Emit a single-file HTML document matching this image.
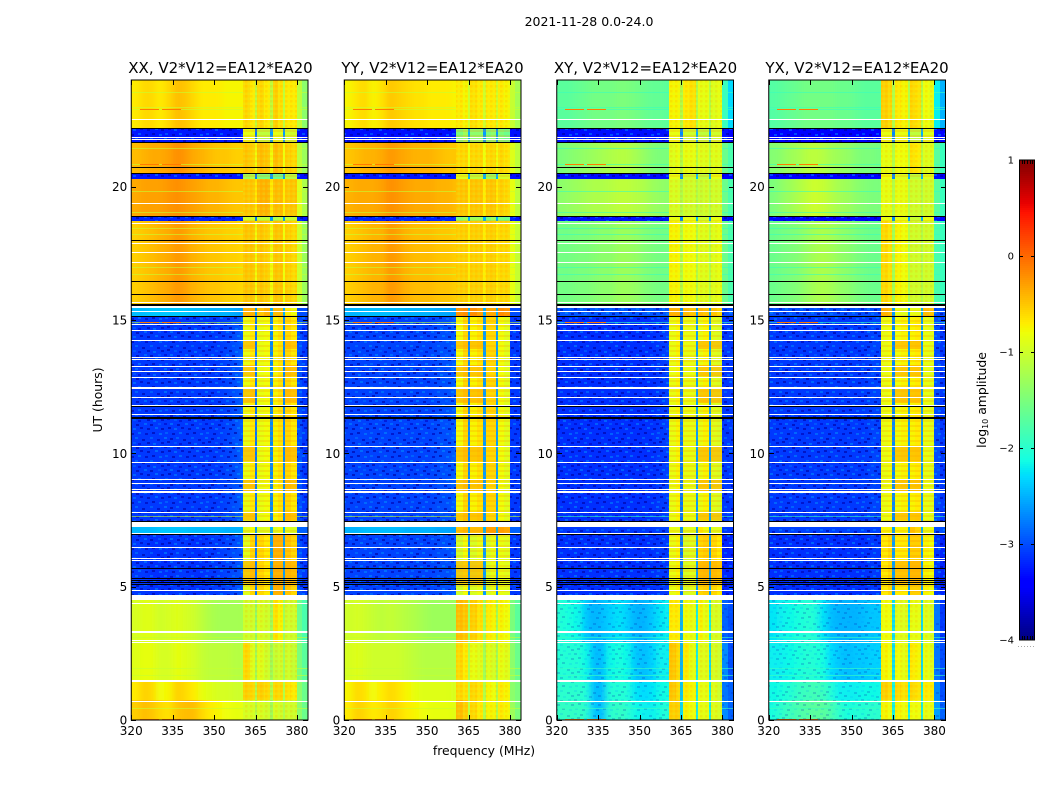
<!DOCTYPE html>
<html lang="en">
<head>
<meta charset="utf-8">
<title>2021-11-28 amplitude waterfall</title>
<style>
html,body{margin:0;padding:0;background:#fff;}
svg{display:block;font-family:"DejaVu Sans","Liberation Sans",sans-serif;fill:#000;}
</style>
</head>
<body>
<svg id="chart" xmlns="http://www.w3.org/2000/svg" width="1050" height="800" viewBox="0 0 1050 800">
  <defs>
    <filter id="smooth" filterUnits="objectBoundingBox" x="0" y="0" width="1" height="1">
      <feGaussianBlur stdDeviation="3.5 0"/>
    </filter>
    <pattern id="grain" patternUnits="userSpaceOnUse" width="41" height="23">
      <rect x="0" y="0" width="3" height="2" fill="#0090ff" opacity=".55"/>
      <rect x="6" y="1" width="3" height="2" fill="#0000a0" opacity=".6"/>
      <rect x="12" y="0" width="3" height="2" fill="#00a0ff" opacity=".4"/>
      <rect x="19" y="2" width="3" height="2" fill="#0000a0" opacity=".6"/>
      <rect x="27" y="0" width="3" height="2" fill="#0080ff" opacity=".5"/>
      <rect x="34" y="2" width="3" height="2" fill="#0000b0" opacity=".6"/>
      <rect x="3" y="4" width="3" height="2" fill="#0000a0" opacity=".6"/>
      <rect x="10" y="5" width="3" height="2" fill="#0070ff" opacity=".5"/>
      <rect x="15" y="6" width="3" height="2" fill="#0000c0" opacity=".55"/>
      <rect x="24" y="5" width="3" height="2" fill="#0000a0" opacity=".6"/>
      <rect x="30" y="6" width="3" height="2" fill="#00a0ff" opacity=".45"/>
      <rect x="38" y="5" width="3" height="2" fill="#0000b0" opacity=".6"/>
      <rect x="0" y="9" width="3" height="2" fill="#0000c0" opacity=".55"/>
      <rect x="6" y="9" width="3" height="2" fill="#00a0ff" opacity=".45"/>
      <rect x="13" y="10" width="3" height="2" fill="#0000a0" opacity=".6"/>
      <rect x="21" y="9" width="3" height="2" fill="#0090ff" opacity=".5"/>
      <rect x="27" y="10" width="3" height="2" fill="#0000a0" opacity=".6"/>
      <rect x="35" y="9" width="3" height="2" fill="#0070ff" opacity=".5"/>
      <rect x="4" y="13" width="3" height="2" fill="#0000a0" opacity=".6"/>
      <rect x="10" y="14" width="3" height="2" fill="#0090ff" opacity=".5"/>
      <rect x="17" y="13" width="3" height="2" fill="#0000b0" opacity=".6"/>
      <rect x="24" y="14" width="3" height="2" fill="#0000a0" opacity=".6"/>
      <rect x="32" y="13" width="3" height="2" fill="#00a0ff" opacity=".45"/>
      <rect x="38" y="14" width="3" height="2" fill="#0000a0" opacity=".6"/>
      <rect x="1" y="18" width="3" height="2" fill="#0080ff" opacity=".5"/>
      <rect x="8" y="19" width="3" height="2" fill="#0000a0" opacity=".6"/>
      <rect x="15" y="18" width="3" height="2" fill="#00a0ff" opacity=".45"/>
      <rect x="22" y="19" width="3" height="2" fill="#0000b0" opacity=".6"/>
      <rect x="29" y="18" width="3" height="2" fill="#0000a0" opacity=".6"/>
      <rect x="36" y="19" width="3" height="2" fill="#0090ff" opacity=".5"/>
    </pattern>
    <pattern id="checker" patternUnits="userSpaceOnUse" width="5" height="5">
      <rect x="0" y="0" width="2.5" height="2.5" fill="#ff9000" opacity=".16"/>
      <rect x="2.5" y="2.5" width="2.5" height="2.5" fill="#c8ff40" opacity=".18"/>
    </pattern>
    <pattern id="stripes" patternUnits="userSpaceOnUse" width="7" height="5">
      <rect x="0" y="0" width="7" height="2" fill="#ff8000" opacity=".2"/>
    </pattern>
  </defs>
</svg>
<script>
// Frequency channel starts (MHz); last entry closes the final channel.
const channelEdges = [320,323,326,329,332,335,338,341,344,347,350,353,356,359,360.5,363,364.8,365.6,368,370.3,371.2,373,375,375.8,378,380,382,384];
// Time blocks (UT hours). Gaps between blocks are flagged data and stay white.
const blockStart = [0,0.75,1.5,2.9,4.69,7.0,7.44,15.16,15.6,18.71,18.9,20.29,20.475,21.68,22.2];
const blockEnd   = [0.75,1.5,2.9,4.5,7.0,7.24,15.16,15.44,18.71,18.9,20.29,20.475,21.68,22.2,24];
// Block indices with noisy low-signal data, per panel.
const xxNoisy = [4,6,9,11,13];
const yyNoisy = [4,6,9,11,13];
const xyNoisy = [0,1,2,3,4,5,6,7,9,11,13];
const yxNoisy = [0,1,2,3,4,5,6,7,9,11,13];
const panelNoisy = [xxNoisy, yyNoisy, xyNoisy, yxNoisy];
const lowSignalBlocks = [4,5,6,7,9,11,13];
const faintNoiseBlocks = [0,1,2,3];

// log10 amplitude, one row per time block, one column per channel.
const xxValues = [
[-.55,-.45,-.5,-.6,-.65,-.5,-.45,-.45,-.6,-.7,-.75,-.8,-.85,-.85,-.95,-.95,-1.2,-.95,-1,-1.3,-.95,-1,-1.2,-1,-1,-1.4,-1.6],
[-.7,-.55,-.6,-.8,-.75,-.55,-.6,-.7,-.85,-.9,-.95,-.95,-1,-1,-.55,-.6,-1.2,-.55,-.6,-1.2,-.6,-.6,-1.2,-.65,-.7,-1.4,-1.6],
[-.9,-.85,-.85,-.95,-.95,-.85,-.9,-.95,-1.05,-1.1,-1.1,-1.1,-1.15,-1.15,-.6,-.9,-1.3,-.9,-1,-1.3,-1.05,-1,-1.3,-1,-1.05,-1.5,-1.7],
[-.95,-.9,-.9,-1,-.95,-.9,-.95,-1,-1.1,-1.2,-1.25,-1.25,-1.25,-1.25,-1,-1,-1.4,-.95,-1,-1.3,-.65,-.75,-1.3,-1,-1,-1.6,-1.8],
[-3.1,-3.1,-3.15,-3.15,-3.15,-3.1,-3.1,-3.15,-3.15,-3.1,-3.1,-3.05,-3,-2.95,-.9,-.6,-2.8,-.6,-.7,-2.6,-.4,-.4,-2.6,-.5,-.6,-3,-3.1],
[-2.45,-2.45,-2.45,-2.4,-2.4,-2.4,-2.4,-2.45,-2.45,-2.45,-2.45,-2.5,-2.5,-2.5,-.9,-.8,-2.6,-.95,-.9,-2.5,-.9,-.8,-2.5,-.9,-.95,-2.9,-2.9],
[-3.1,-3.1,-3.1,-3.1,-3.1,-3.1,-3.1,-3.1,-3.1,-3.1,-3.1,-3.05,-3,-2.9,-.85,-.7,-2.8,-.85,-.8,-2.7,-.75,-.65,-2.7,-.6,-.7,-3,-3.1],
[-2.45,-2.45,-2.4,-2.4,-2.4,-2.4,-2.4,-2.45,-2.45,-2.5,-2.5,-2.5,-2.55,-2.6,-.4,-.4,-2.6,-.5,-.4,-2.5,-.45,-.45,-2.5,-.7,-.8,-3,-3],
[-.55,-.5,-.45,-.4,-.35,-.25,-.3,-.4,-.45,-.5,-.5,-.55,-.55,-.6,-.5,-.5,-.8,-.5,-.55,-.8,-.5,-.5,-.8,-.55,-.6,-1,-1.3],
[-3.2,-3.2,-3.2,-3.2,-3.2,-3.2,-3.2,-3.2,-3.2,-3.2,-3.2,-3.2,-3.2,-3.2,-1,-1,-2.8,-1.1,-1.1,-2.6,-1.2,-1.1,-2.6,-1.05,-1.05,-3.2,-3.3],
[-.35,-.3,-.3,-.3,-.25,-.2,-.25,-.3,-.35,-.4,-.4,-.45,-.5,-.5,-.5,-.5,-.7,-.4,-.4,-.7,-.45,-.45,-.7,-.5,-.5,-.9,-1.2],
[-3.25,-3.25,-3.25,-3.25,-3.25,-3.25,-3.25,-3.25,-3.25,-3.25,-3.25,-3.25,-3.25,-3.25,-1.3,-1.2,-2.8,-1.5,-1.5,-2.6,-1.6,-1.6,-2.6,-1.15,-1.15,-3.3,-3.3],
[-.45,-.4,-.35,-.35,-.3,-.2,-.25,-.35,-.4,-.45,-.5,-.5,-.55,-.55,-.5,-.55,-.8,-.45,-.5,-.8,-.45,-.5,-.8,-.55,-.6,-1.1,-1.3],
[-3.25,-3.25,-3.25,-3.25,-3.25,-3.25,-3.25,-3.25,-3.25,-3.25,-3.25,-3.25,-3.25,-3.25,-.85,-.85,-2.8,-1.1,-1.1,-2.6,-.85,-.9,-2.6,-1,-1,-3.3,-3.3],
[-.7,-.6,-.6,-.7,-.6,-.45,-.5,-.6,-.7,-.7,-.7,-.75,-.75,-.75,-.6,-.7,-1.1,-.6,-.7,-1.1,-.55,-.65,-1.1,-.7,-.7,-1.1,-1.4]
];
const yyValues = [
[-.7,-.55,-.6,-.7,-.65,-.55,-.6,-.7,-.75,-.8,-.85,-.85,-.85,-.9,-.45,-.55,-1.1,-.6,-.7,-1.2,-.75,-.75,-1.2,-.7,-.75,-1.3,-1.5],
[-.75,-.6,-.65,-.8,-.7,-.6,-.65,-.75,-.85,-.9,-.9,-.9,-.9,-.95,-.6,-.65,-1.2,-.6,-.65,-1.2,-.75,-.8,-1.2,-.7,-.75,-1.4,-1.5],
[-.95,-.9,-.95,-1,-1,-1,-1,-1.05,-1.1,-1.15,-1.15,-1.15,-1.15,-1.15,-.6,-.7,-1.2,-.85,-.9,-1.3,-.9,-.95,-1.3,-.85,-.9,-1.4,-1.6],
[-1,-.95,-1,-1.05,-1.1,-1.05,-1.1,-1.15,-1.2,-1.25,-1.3,-1.3,-1.3,-1.3,-.45,-.5,-1.3,-.55,-.65,-1.3,-.7,-.75,-1.3,-.75,-.8,-1.5,-1.7],
[-3.05,-3.05,-3.05,-3.05,-3.05,-3.05,-3.05,-3.05,-3.05,-3.05,-3.05,-3,-3,-2.95,-1,-.8,-2.7,-.95,-.85,-2.6,-.95,-.85,-2.7,-.85,-.9,-3.1,-3.1],
[-2.5,-2.5,-2.45,-2.45,-2.45,-2.45,-2.45,-2.5,-2.5,-2.5,-2.5,-2.55,-2.55,-2.6,-.5,-.45,-2.5,-.45,-.45,-2.5,-.3,-.3,-2.5,-.3,-.35,-2.9,-2.9],
[-3.05,-3.05,-3.05,-3.05,-3.05,-3.05,-3.05,-3.05,-3.05,-3.05,-3.05,-3,-3,-2.9,-.8,-.6,-2.7,-.75,-.65,-2.6,-.6,-.6,-2.6,-.8,-.9,-3.1,-3.1],
[-2.5,-2.5,-2.45,-2.45,-2.45,-2.45,-2.45,-2.5,-2.5,-2.5,-2.5,-2.55,-2.55,-2.6,-.25,-.2,-2.5,-.2,-.3,-2.5,-.35,-.35,-2.5,-.2,-.25,-3,-3],
[-.55,-.5,-.45,-.4,-.4,-.25,-.3,-.4,-.45,-.45,-.45,-.5,-.5,-.55,-.55,-.55,-.7,-.55,-.55,-.7,-.55,-.55,-.7,-.6,-.6,-.85,-1.05],
[-3.2,-3.2,-3.2,-3.2,-3.2,-3.2,-3.2,-3.2,-3.2,-3.2,-3.2,-3.2,-3.2,-3.2,-1.45,-1.3,-2.5,-1.3,-1.3,-2.5,-1.5,-1.3,-2.5,-1.5,-1.6,-3.2,-3.3],
[-.4,-.35,-.35,-.35,-.3,-.2,-.25,-.3,-.35,-.35,-.35,-.4,-.4,-.45,-.5,-.5,-.7,-.5,-.5,-.7,-.5,-.5,-.7,-.55,-.6,-.85,-1.1],
[-3.25,-3.25,-3.25,-3.25,-3.25,-3.25,-3.25,-3.25,-3.25,-3.25,-3.25,-3.25,-3.25,-3.25,-.9,-.9,-2.5,-1.1,-1.1,-2.5,-1.3,-1.3,-2.5,-.95,-.95,-3.3,-3.3],
[-.5,-.45,-.4,-.4,-.35,-.25,-.3,-.35,-.4,-.4,-.4,-.45,-.5,-.5,-.6,-.6,-.8,-.6,-.6,-.8,-.6,-.6,-.8,-.6,-.65,-.9,-1.1],
[-3.3,-3.3,-3.3,-3.3,-3.3,-3.3,-3.3,-3.3,-3.3,-3.3,-3.3,-3.3,-3.3,-3.3,-1.5,-1.3,-2.5,-1.4,-1.4,-2.6,-1.5,-1.4,-2.6,-1.5,-1.6,-3.3,-3.3],
[-.75,-.65,-.6,-.75,-.65,-.5,-.55,-.6,-.65,-.65,-.7,-.7,-.7,-.75,-.7,-.75,-1,-.65,-.7,-1,-.7,-.7,-1,-.7,-.75,-1.05,-1.25]
];
const xyValues = [
[-1.95,-1.95,-1.95,-2,-2.4,-2.45,-2,-1.95,-2,-2.15,-2.2,-2.2,-2.1,-2.05,-.55,-.55,-2.3,-.75,-.8,-2.2,-.85,-.85,-2.2,-.9,-.95,-2.7,-2.9],
[-2,-2,-2,-2.05,-2.45,-2.45,-2.05,-2.05,-2.05,-2.25,-2.3,-2.25,-2.15,-2.1,-.5,-.6,-2.4,-.7,-.75,-2.2,-.85,-.85,-2.2,-.9,-1,-2.8,-2.9],
[-2.05,-2.05,-2.05,-2.15,-2.45,-2.45,-2.15,-2.1,-2.15,-2.4,-2.45,-2.35,-2.2,-2.2,-.5,-.6,-2.5,-.7,-.85,-2.2,-.9,-.9,-2.3,-.95,-1,-2.7,-3],
[-2.05,-2.1,-2.15,-2.4,-2.5,-2.45,-2.35,-2.25,-2.35,-2.5,-2.5,-2.4,-2.25,-2.2,-.7,-.7,-2.5,-.8,-.85,-2.2,-.75,-.85,-2.2,-.95,-.95,-2.9,-3],
[-3.15,-3.15,-3.15,-3.15,-3.15,-3.15,-3.15,-3.15,-3.15,-3.15,-3.15,-3.15,-3.1,-3.1,-.85,-.75,-2.8,-.95,-.9,-2.6,-.6,-.55,-2.6,-.6,-.7,-3.2,-3.2],
[-3.1,-3.1,-3.1,-3.1,-3.1,-3.1,-3.1,-3.1,-3.1,-3.1,-3.1,-3.1,-3.05,-3.05,-.85,-.85,-2.7,-.9,-.9,-2.6,-.7,-.8,-2.6,-.9,-.9,-3.1,-3.1],
[-3.15,-3.15,-3.15,-3.15,-3.15,-3.15,-3.15,-3.15,-3.15,-3.15,-3.15,-3.15,-3.1,-3.05,-.85,-.75,-2.8,-.85,-.85,-2.6,-.85,-.75,-2.6,-.9,-.95,-3.1,-3.1],
[-2.95,-2.95,-2.95,-2.95,-2.95,-2.95,-2.95,-2.95,-2.95,-2.95,-2.95,-2.95,-2.95,-2.95,-.4,-.4,-2.7,-.45,-.5,-2.6,-.45,-.5,-2.6,-.5,-.6,-3,-3],
[-1.55,-1.55,-1.5,-1.5,-1.45,-1.4,-1.4,-1.3,-1.3,-1.35,-1.45,-1.5,-1.55,-1.55,-.75,-.75,-1.2,-.8,-.8,-1.2,-.9,-.9,-1.2,-.9,-.85,-1.6,-1.8],
[-3.3,-3.3,-3.3,-3.3,-3.3,-3.3,-3.3,-3.3,-3.3,-3.3,-3.3,-3.3,-3.3,-3.3,-.85,-.85,-2.7,-.85,-.85,-2.4,-1,-1,-2.5,-.85,-.85,-3.3,-3.4],
[-1.4,-1.35,-1.3,-1.25,-1.2,-1.2,-1.15,-1.1,-1.1,-1.15,-1.2,-1.3,-1.35,-1.4,-.95,-.95,-1.2,-1,-1,-1.2,-1.05,-1,-1.2,-1,-1,-1.6,-1.8],
[-3.3,-3.3,-3.3,-3.3,-3.3,-3.3,-3.3,-3.3,-3.3,-3.3,-3.3,-3.3,-3.3,-3.3,-.85,-.85,-2.7,-1,-1,-2.4,-1.1,-1.1,-2.5,-.85,-.85,-3.4,-3.4],
[-1.5,-1.45,-1.4,-1.35,-1.3,-1.25,-1.2,-1.15,-1.15,-1.25,-1.35,-1.45,-1.5,-1.5,-.9,-.85,-1.2,-.85,-.85,-1.2,-.9,-.9,-1.2,-.9,-.9,-1.6,-1.8],
[-3.3,-3.3,-3.3,-3.3,-3.3,-3.3,-3.3,-3.3,-3.3,-3.3,-3.3,-3.3,-3.3,-3.3,-.85,-.85,-2.7,-1,-1,-2.5,-1.1,-1.1,-2.5,-1,-1,-3.3,-3.4],
[-1.7,-1.7,-1.65,-1.6,-1.55,-1.55,-1.55,-1.5,-1.5,-1.55,-1.6,-1.65,-1.65,-1.7,-.75,-.75,-1.2,-.7,-.65,-1.2,-.85,-.85,-1.2,-.9,-.85,-1.9,-2.3]
];
const yxValues = [
[-2.1,-2,-1.9,-1.8,-1.75,-1.7,-1.7,-1.8,-2,-2.1,-2.05,-2.05,-2,-2,-.75,-.8,-2.2,-.75,-.8,-2.2,-.8,-.8,-2.2,-.85,-.85,-2.6,-2.9],
[-2.15,-2.1,-2.05,-1.95,-1.9,-1.85,-1.9,-2.05,-2.2,-2.2,-2.2,-2.15,-2.15,-2.15,-.55,-.6,-2.2,-.6,-.65,-2.2,-.6,-.65,-2.2,-.7,-.7,-2.7,-3],
[-2.2,-2.2,-2.15,-2.1,-2.05,-2.05,-2.1,-2.3,-2.4,-2.45,-2.4,-2.4,-2.35,-2.35,-.75,-.8,-2.3,-.8,-.85,-2.3,-.7,-.75,-2.3,-.85,-.9,-2.8,-3],
[-2.25,-2.2,-2.15,-2.1,-2.05,-2.05,-2.25,-2.45,-2.5,-2.5,-2.5,-2.45,-2.4,-2.4,-.8,-.8,-2.3,-.9,-.9,-2.3,-.85,-.85,-2.3,-.9,-.95,-2.8,-3.1],
[-3.15,-3.15,-3.15,-3.15,-3.15,-3.15,-3.15,-3.15,-3.15,-3.15,-3.15,-3.15,-3.1,-3.1,-.7,-.6,-2.6,-.7,-.7,-2.6,-.55,-.55,-2.6,-.75,-.8,-3.1,-3.2],
[-3.05,-3.05,-3.05,-3.05,-3.05,-3.05,-3.05,-3.05,-3.05,-3.05,-3.05,-3.05,-3.05,-3.05,-.75,-.75,-2.6,-.75,-.75,-2.5,-.5,-.6,-2.5,-.85,-.85,-3,-3],
[-3.1,-3.1,-3.1,-3.1,-3.1,-3.1,-3.1,-3.1,-3.1,-3.1,-3.1,-3.1,-3.05,-3.05,-.85,-.8,-2.7,-.8,-.75,-2.6,-.75,-.7,-2.6,-.85,-.9,-3,-3.1],
[-3,-3,-3,-3,-3,-3,-3,-3,-3,-3,-3,-3,-3,-3,-.4,-.45,-2.6,-.85,-.9,-2.5,-.85,-.85,-2.5,-.45,-.5,-3,-3],
[-1.6,-1.55,-1.5,-1.45,-1.35,-1.25,-1.2,-1.25,-1.35,-1.4,-1.5,-1.55,-1.6,-1.6,-.6,-.65,-1.3,-.75,-.8,-1.2,-1,-1,-1.2,-1,-1,-1.8,-1.9],
[-3.35,-3.35,-3.35,-3.35,-3.35,-3.35,-3.35,-3.35,-3.35,-3.35,-3.35,-3.35,-3.35,-3.35,-.85,-.85,-2.7,-.85,-.85,-2.5,-1.05,-1.05,-2.5,-.85,-.85,-3.3,-3.4],
[-1.5,-1.4,-1.3,-1.2,-1.1,-1,-1.05,-1.15,-1.25,-1.3,-1.4,-1.45,-1.5,-1.5,-.85,-.85,-1.2,-.85,-.85,-1.2,-1,-1,-1.2,-1,-1,-1.7,-1.9],
[-3.35,-3.35,-3.35,-3.35,-3.35,-3.35,-3.35,-3.35,-3.35,-3.35,-3.35,-3.35,-3.35,-3.35,-.8,-.8,-2.7,-.9,-.9,-2.5,-1.1,-1.1,-2.5,-.9,-.9,-3.3,-3.4],
[-1.45,-1.4,-1.3,-1.25,-1.15,-1.1,-1.15,-1.25,-1.3,-1.35,-1.45,-1.5,-1.5,-1.55,-.85,-.85,-1.2,-.8,-.8,-1.2,-.65,-.7,-1.2,-.9,-.9,-1.7,-1.9],
[-3.35,-3.35,-3.35,-3.35,-3.35,-3.35,-3.35,-3.35,-3.35,-3.35,-3.35,-3.35,-3.35,-3.35,-.85,-.85,-2.7,-.85,-.85,-2.5,-1.1,-1.1,-2.5,-.9,-.9,-3.3,-3.4],
[-1.75,-1.7,-1.65,-1.6,-1.55,-1.55,-1.55,-1.55,-1.6,-1.6,-1.65,-1.7,-1.7,-1.7,-.55,-.6,-1.2,-.7,-.75,-1.2,-.6,-.65,-1.2,-.8,-.85,-2.2,-2.5]
];
const panelValues = [xxValues, yyValues, xyValues, yxValues];
const panelTitles = ["XX, V2*V12=EA12*EA20","YY, V2*V12=EA12*EA20","XY, V2*V12=EA12*EA20","YX, V2*V12=EA12*EA20"];
const panelKeys = ["xx","yy","xy","yx"];

// Flagged integrations and other single-row features (UT hours).
const whiteLines = [22.55,21.88,21.79,19.38,18.63,17.9,17.54,17.16,15.69,15.35,14.84,14.63,14.25,13.62,13.53,13.29,13.09,12.86,12.1,11.8,11.46,10.29,9.66,9.04,8.9,8.66,8.59,8.54,7.81,7,6.5,6.09,5.99,4.86,4.38,2.99,2.91,0.7];
const whiteThickLines = [12.5,3.34,1.5];
const blackLines = [22.2,21.68,20.72,20.5,18.9,17.99,16.45,15.96,15.16,11.78,7.47,6.96,5.69,5.31,5.24,5.16,5.09];
const blackThickLines = [15.61,11.37];
const dimLines = [23.54,23,22.9,21.44,20.84,19.84,19.06,18.44,18.22,16.98,16.72,14.91,7.66,3.12,1.94,1.69,0.46];
const dimLevels = [-1.05,-1.05,-1.9,-1.9];
const rfiTimes = [22.9,20.84,14.91,0.03];
const rfiStart = [323,331];
const rfiEnd = [330,338];
const rfiLevel = -0.1;

// Brighter time spans inside the signal bands of the weak-signal hours.
const patchStart = [13.9,12.9,11.9,9.7,8.6,7.5,5.1];
const patchEnd = [14.2,13.3,12.4,10.25,9,7.8,5.95];
const patchLevel = -0.35;
const bandStart = [360.5,365.6,371.2,375.8];
const bandEnd = [364.8,370.3,375,380];
const xxPatchBands = [0,3];
const yyPatchBands = [0,1];
const xyPatchBands = [2,3];
const yxPatchBands = [1,2];
const panelPatchBands = [xxPatchBands, yyPatchBands, xyPatchBands, yxPatchBands];

const xTicks = [320,335,350,365,380];
const yTicks = [0,5,10,15,20];
const colorTicks = [-4,-3,-2,-1,0,1];
const colorTickLabels = ["\u22124","\u22123","\u22122","\u22121","0","1"];

const NS = "http://www.w3.org/2000/svg";
const svg = document.getElementById("chart");
const axLeft = [131.25,344.25,556.75,768.75];
const titleCenter = [220.5,432.5,645.5,857];
const axWidth = 176.75, axTop = 80, axBottom = 720;
const fMin = 320, fMax = 384, tMin = 0, tMax = 24;
const smoothChannels = 14;
function xScale(f, p){ return axLeft[p] + (f - fMin) / (fMax - fMin) * axWidth; }
function yScale(t){ return axBottom - (t - tMin) / (tMax - tMin) * (axBottom - axTop); }
const cbLeft = 1019.5, cbRight = 1034.5, cbTop = 160, cbBottom = 640, vMin = -4, vMax = 1;
function cbY(v){ return cbBottom - (v - vMin) / (vMax - vMin) * (cbBottom - cbTop); }
function clamp01(a){ return Math.max(0, Math.min(1, a)); }
function jet(v){
  const s = clamp01((v - vMin) / (vMax - vMin));
  let r = s < .35 ? 0 : s < .66 ? (s - .35) / .31 : s < .89 ? 1 : 1 - (s - .89) / .11 * .5;
  let g = s < .125 ? 0 : s < .375 ? (s - .125) / .25 : s < .64 ? 1 : s < .91 ? 1 - (s - .64) / .27 : 0;
  let b = s < .11 ? .5 + s / .11 * .5 : s < .34 ? 1 : s < .65 ? 1 - (s - .34) / .31 : 0;
  return "rgb(" + Math.round(r * 255) + "," + Math.round(g * 255) + "," + Math.round(b * 255) + ")";
}
function makeRect(parent, x, y, w, h, fill){
  const el = document.createElementNS(NS, "rect");
  el.setAttribute("x", x);
  el.setAttribute("y", y);
  el.setAttribute("width", w);
  el.setAttribute("height", h);
  el.setAttribute("fill", fill);
  parent.appendChild(el);
  return el;
}
function makeText(parent, x, y, str, size, anchor){
  const el = document.createElementNS(NS, "text");
  el.setAttribute("x", x);
  el.setAttribute("y", y);
  el.setAttribute("font-size", size);
  el.setAttribute("text-anchor", anchor);
  el.textContent = str;
  parent.appendChild(el);
  return el;
}

const sup = makeText(svg, 589, 26, "2021-11-28 0.0-24.0", 12.5, "middle");



panelValues.forEach(function(rows, p){
  const g = document.createElementNS(NS, "g");
  
  
  svg.appendChild(g);
  const base = document.createElementNS(NS, "g");
  base.setAttribute("shape-rendering", "crispEdges");
  g.appendChild(base);
  const smooth = document.createElementNS(NS, "g");
  smooth.setAttribute("filter", "url(#smooth)");
  smooth.setAttribute("shape-rendering", "crispEdges");
  g.appendChild(smooth);
  const marks = document.createElementNS(NS, "g");
  marks.setAttribute("shape-rendering", "crispEdges");
  g.appendChild(marks);

  rows.forEach(function(row, b){
    const y0 = Math.round(yScale(blockEnd[b]));
    const y1 = Math.round(yScale(blockStart[b]));
    row.forEach(function(v, c){
      const x0 = Math.round(xScale(channelEdges[c], p));
      const x1 = Math.round(xScale(channelEdges[c + 1], p));
      const cell = makeRect(base, x0, y0, x1 - x0, y1 - y0, jet(v));
      
      
      if (c < smoothChannels) {
        const soft = makeRect(smooth, x0, y0, x1 - x0, y1 - y0, jet(v));
        
        
      }
    });
    const xa = Math.round(xScale(channelEdges[0], p));
    const xs = Math.round(xScale(channelEdges[14], p));
    const xe = Math.round(xScale(channelEdges[25], p));
    const xz = Math.round(xScale(channelEdges[27], p));
    if (panelNoisy[p].indexOf(b) >= 0) {
      const noiseOpacity = faintNoiseBlocks.indexOf(b) >= 0 ? ".3" : "1";
      const n1 = makeRect(marks, xa, y0, xs - xa, y1 - y0, "url(#grain)");
      n1.setAttribute("opacity", noiseOpacity);
      
      
      const n2 = makeRect(marks, xe, y0, xz - xe, y1 - y0, "url(#grain)");
      n2.setAttribute("opacity", noiseOpacity);
      
      
    }
    const textureFill = lowSignalBlocks.indexOf(b) >= 0 ? "url(#stripes)" : "url(#checker)";
    const ck = makeRect(marks, xs, y0, xe - xs, y1 - y0, textureFill);
    
    
  });

  panelPatchBands[p].forEach(function(band){
    const xa = Math.round(xScale(bandStart[band], p));
    const xb = Math.round(xScale(bandEnd[band], p));
    patchStart.forEach(function(t, i){
      const ya = Math.round(yScale(patchEnd[i]));
      const yb = Math.round(yScale(t));
      const el = makeRect(marks, xa, ya, xb - xa, yb - ya, jet(patchLevel));
      el.setAttribute("opacity", ".6");
      
      
    });
  });

  const left = Math.round(xScale(fMin, p));
  const right = Math.round(xScale(fMax, p));
  const signalStart = Math.round(xScale(channelEdges[14], p));
  const signalEnd = Math.round(xScale(channelEdges[25], p));
  dimLines.forEach(function(t){
    const el = makeRect(marks, left, Math.round(yScale(t)), signalStart - left, 1, jet(dimLevels[p]));
    el.setAttribute("opacity", ".6");
    
    
    const tail = makeRect(marks, signalEnd, Math.round(yScale(t)), right - signalEnd, 1, jet(dimLevels[p]));
    tail.setAttribute("opacity", ".6");
    
    
  });
  rfiTimes.forEach(function(t){
    rfiStart.forEach(function(f, i){
      const xa = Math.round(xScale(f, p));
      const el = makeRect(marks, xa, Math.round(yScale(t)), Math.round(xScale(rfiEnd[i], p)) - xa, 1, jet(rfiLevel));
      
      
    });
  });
  whiteLines.forEach(function(t){
    const el = makeRect(marks, left, Math.round(yScale(t)), right - left, 1, "#fff");
    
    
  });
  whiteThickLines.forEach(function(t){
    const el = makeRect(marks, left, Math.round(yScale(t)), right - left, 2, "#fff");
    
    
  });
  blackLines.forEach(function(t){
    const el = makeRect(marks, left, Math.round(yScale(t)), right - left, 1, "#000");
    
    
  });
  blackThickLines.forEach(function(t){
    const el = makeRect(marks, left, Math.round(yScale(t)), right - left, 2, "#000");
    
    
  });

  xTicks.forEach(function(f){
    const x = Math.round(xScale(f, p));
    const tb = makeRect(marks, x, axBottom - 5, 1, 5, "#000");
    
    
    const tt = makeRect(marks, x, axTop, 1, 5, "#000");
    
    
    const lab = makeText(g, xScale(f, p), 735, String(f), 12, "middle");
    
    
  });
  yTicks.forEach(function(t){
    const y = Math.round(yScale(t));
    const tl = makeRect(marks, left, y, 5, 1, "#000");
    
    
    const tr = makeRect(marks, right - 5, y, 5, 1, "#000");
    
    
    const lab = makeText(g, axLeft[p] - 4, yScale(t) + 4.5, String(t), 12, "end");
    
    
  });

  const frame = makeRect(g, axLeft[p], axTop, axWidth, axBottom - axTop, "none");
  frame.setAttribute("stroke", "#000");
  frame.setAttribute("stroke-width", "1");
  
  

  const title = makeText(g, titleCenter[p], 73, panelTitles[p], 15, "middle");
  
  
});

const xl = makeText(svg, 484, 755, "frequency (MHz)", 12.4, "middle");


const yl = makeText(svg, 0, 0, "UT (hours)", 12.4, "middle");
yl.setAttribute("transform", "translate(102,400) rotate(-90)");



// Colorbar
const cb = document.createElementNS(NS, "g");


svg.appendChild(cb);
const ramp = document.createElementNS(NS, "g");
ramp.setAttribute("shape-rendering", "crispEdges");
cb.appendChild(ramp);
for (let py = cbTop; py < cbBottom; py += 2) {
  const v = vMin + (cbBottom - py - 1) / (cbBottom - cbTop) * (vMax - vMin);
  const el = makeRect(ramp, Math.floor(cbLeft), py, Math.ceil(cbRight) - Math.floor(cbLeft), 2, jet(v));
  
  
}
colorTicks.forEach(function(v, i){
  const y = cbY(v);
  const yy = Math.min(Math.round(y), cbBottom - 1);
  if (v > vMin && v < vMax) {
    const a = makeRect(ramp, Math.floor(cbLeft), yy, 4, 1, "#000");
    
    
    const b = makeRect(ramp, Math.ceil(cbRight) - 4, yy, 4, 1, "#000");
    
    
  }
  const lab = makeText(cb, 1014, y + 3.5, colorTickLabels[i], 10, "end");
  
  
});
for (let k = 0; k < 5; k++) {
  const x = Math.round(cbLeft + 2 + k * 2.7);
  const a = makeRect(ramp, x, cbTop, 1, 4, "#000");
  
  
  const b = makeRect(ramp, x, cbBottom - 4, 1, 4, "#000");
  
  
}
const cbFrame = makeRect(cb, cbLeft, cbTop, cbRight - cbLeft, cbBottom - cbTop, "none");
cbFrame.setAttribute("stroke", "#000");
cbFrame.setAttribute("stroke-width", "1");



const dots = document.createElementNS(NS, "line");
dots.setAttribute("x1", 1018);
dots.setAttribute("x2", 1035);
dots.setAttribute("y1", 646.5);
dots.setAttribute("y2", 646.5);
dots.setAttribute("stroke", "#aaa");
dots.setAttribute("stroke-width", "1");
dots.setAttribute("stroke-dasharray", "1 2");


svg.appendChild(dots);

const cl = document.createElementNS(NS, "text");
cl.setAttribute("transform", "translate(986,400) rotate(-90)");
cl.setAttribute("font-size", "12.4");
cl.setAttribute("text-anchor", "middle");


const t1 = document.createElementNS(NS, "tspan");
t1.textContent = "log";
const t2 = document.createElementNS(NS, "tspan");
t2.setAttribute("font-size", "8");
t2.setAttribute("dy", "2");
t2.textContent = "10";
const t3 = document.createElementNS(NS, "tspan");
t3.setAttribute("dy", "-2");
t3.textContent = " amplitude";
cl.appendChild(t1);
cl.appendChild(t2);
cl.appendChild(t3);
svg.appendChild(cl);
</script>
</body>
</html>
